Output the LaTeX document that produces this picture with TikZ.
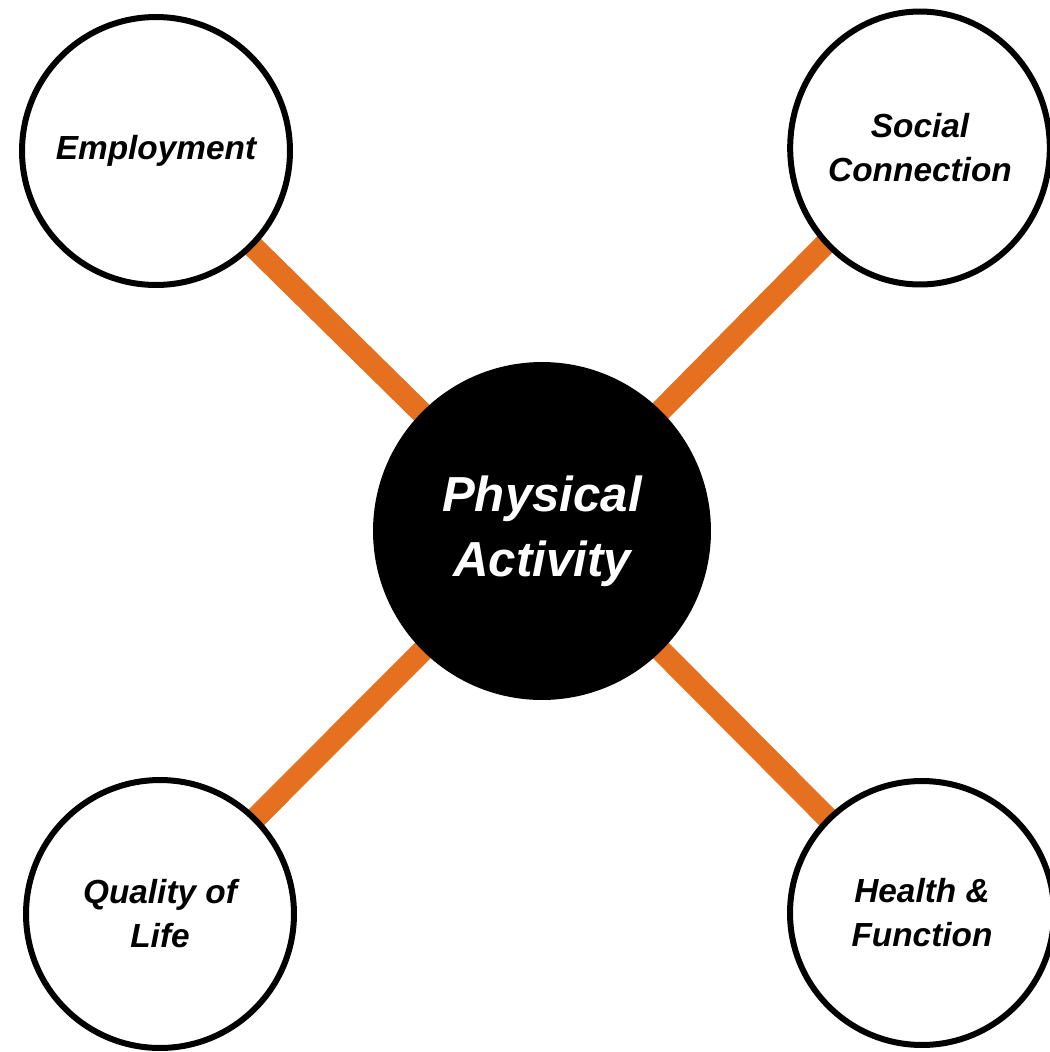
\documentclass[tikz,border=0pt]{standalone}
\usepackage{fontspec}
\setmainfont{Liberation Sans}
\usetikzlibrary{shapes.geometric,backgrounds}
\definecolor{linkorange}{RGB}{228,112,32}
\begin{document}
\begin{tikzpicture}[x=0.02cm,y=-0.02cm,
    outcome/.style={circle,draw=black,line width=0.12cm,fill=white,inner sep=0pt,
      minimum size=5.36cm,align=center,font=\fontsize{19}{25}\selectfont\bfseries\itshape},
    core/.style={circle,fill=black,text=white,inner sep=0pt,minimum size=6.76cm,
      align=center,font=\fontsize{28}{37}\selectfont\bfseries\itshape},
    link/.style={draw=linkorange,line width=0.44cm}]
\useasboundingbox (0,0) rectangle (1049,1052);
% centre
\node[core] (pa) at (542,531) {Physical\\Activity};
% the four outcomes
\node[outcome] (emp) at (156,151) {Employment};
\node[outcome,ellipse,minimum width=5cm,minimum height=5.46cm] (soc) at (920,148) {Social\\Connection};
\node[outcome] (qol) at (160,914) {Quality of\\Life};
\node[outcome,minimum size=5.28cm] (hf) at (922,913) {Health \&\\Function};
% spokes behind everything
\begin{scope}[on background layer]
\draw[link] (pa.center) -- (emp.center);
\draw[link] (pa.center) -- (soc.center);
\draw[link] (pa.center) -- (qol.center);
\draw[link] (pa.center) -- (hf.center);
\end{scope}
\end{tikzpicture}
\end{document}
